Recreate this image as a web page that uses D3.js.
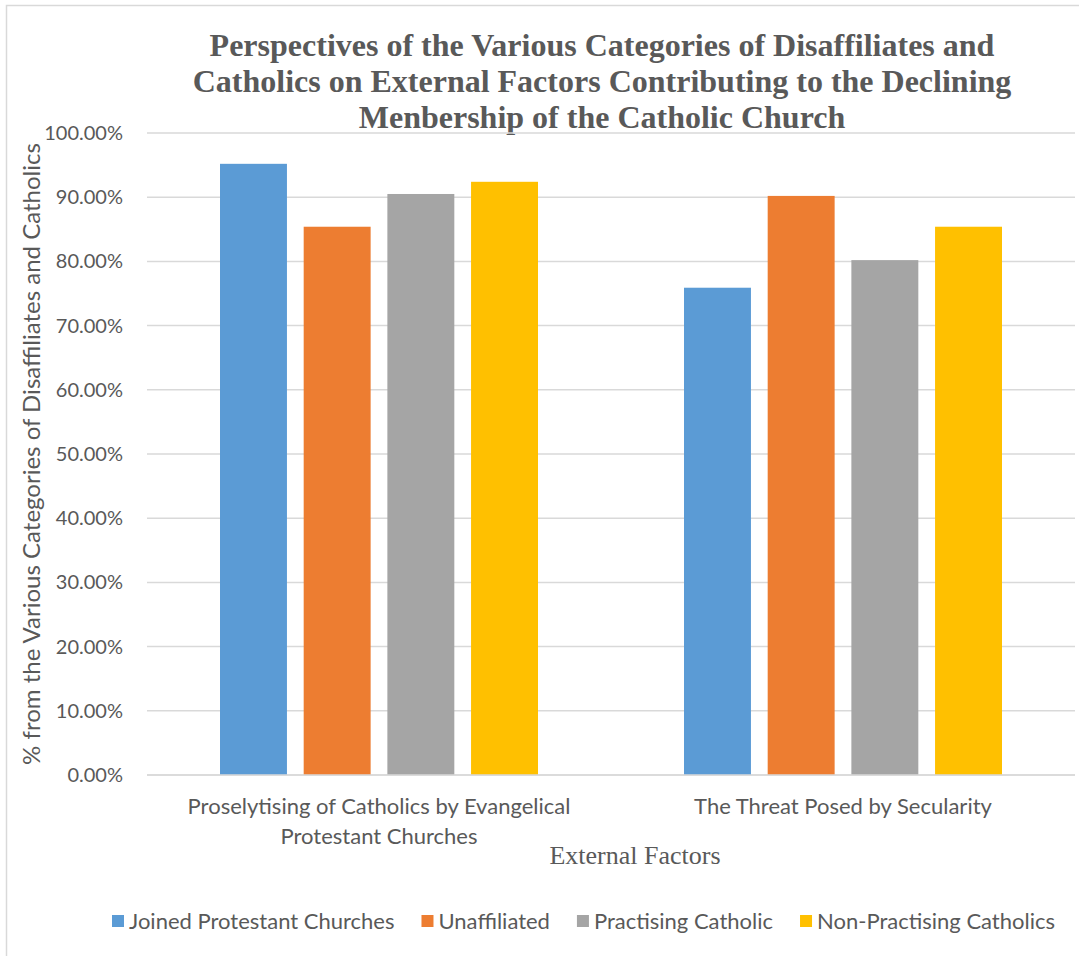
<!DOCTYPE html>
<html>
<head>
<meta charset="utf-8">
<script src="https://d3js.org/d3.v7.min.js"></script>
<style>
  body { margin: 0; background: #fff; }
  svg text { fill: #595959; }
</style>
</head>
<body>
<div id="chart"></div>
<script>
// categories on the x axis (each label split into lines)
const categories = [
  "Proselytising of Catholics by Evangelical Protestant Churches",
  "The Threat Posed by Secularity"
];
const categoryLines = [
  ["Proselytising of Catholics by Evangelical", "Protestant Churches"],
  ["The Threat Posed by Secularity"]
];
const seriesNames = ["Joined Protestant Churches", "Unaffiliated", "Practising Catholic", "Non-Practising Catholics"];
const seriesColors = ["#5B9BD5", "#ED7D31", "#A5A5A5", "#FFC000"];
// values in percent, one array per series (same order as categories)
const joinedProtestant = [95.2, 75.9];
const unaffiliated = [85.4, 90.2];
const practising = [90.5, 80.2];
const nonPractising = [92.4, 85.4];
const yTicks = [0, 10, 20, 30, 40, 50, 60, 70, 80, 90, 100];
const titleLines = [
  "Perspectives of the Various Categories of Disaffiliates and",
  "Catholics on External Factors Contributing to the Declining",
  "Menbership of the Catholic Church"
];

const seriesValues = [joinedProtestant, unaffiliated, practising, nonPractising];

const W = 1079, H = 956;
const margin = { top: 133, right: 4, bottom: 181, left: 147 };
const width = W - margin.left - margin.right;
const height = H - margin.top - margin.bottom;

const svg = d3.select("#chart").append("svg")
  .attr("width", W)
  .attr("height", H);

// outer chart border
svg.append("rect")
  .attr("x", 6.5).attr("y", 5.5)
  .attr("width", W + 10).attr("height", H + 10)
  .attr("fill", "none")
  .attr("stroke", "#D9D9D9")
  .attr("stroke-width", 1.5);

// title
svg.append("g").selectAll("text")
  .data(titleLines)
  .enter().append("text")
  .attr("x", 602)
  .attr("y", (d, i) => 56 + i * 36)
  .attr("text-anchor", "middle")
  .style("font-family", "'Liberation Serif', 'Times New Roman', serif")
  .style("font-weight", "bold")
  .style("font-size", "32px")
  .text(d => d);

const g = svg.append("g")
  .attr("transform", `translate(${margin.left},${margin.top})`);

const x0 = d3.scaleBand()
  .domain(categories)
  .range([0, width])
  .padding(0);

const x1 = d3.scaleBand()
  .domain(seriesNames)
  .range([73, x0.bandwidth() - 73])
  .paddingInner(0.2)
  .paddingOuter(0);

const y = d3.scaleLinear()
  .domain([0, 100])
  .range([height, 0]);

// gridlines
g.append("g").selectAll("line")
  .data(yTicks)
  .enter().append("line")
  .attr("x1", 0).attr("x2", width)
  .attr("y1", d => y(d)).attr("y2", d => y(d))
  .attr("stroke", "#D9D9D9")
  .attr("stroke-width", 1.5);

// y axis labels
const yAxis = g.append("g")
  .call(d3.axisLeft(y).tickValues(yTicks).tickSize(0).tickPadding(24).tickFormat(d => d.toFixed(2) + "%"));
yAxis.select(".domain").remove();
yAxis.selectAll("text")
  .style("font-family", "Lato, 'Open Sans', sans-serif")
  .style("font-size", "20px")
  .attr("fill", "#595959");

// bars
const groups = g.selectAll(".grp")
  .data(categories)
  .enter().append("g")
  .attr("class", "grp")
  .attr("transform", d => `translate(${x0(d)},0)`);

groups.selectAll("rect")
  .data((c, ci) => seriesNames.map((s, si) => ({ s, si, v: seriesValues[si][ci] })))
  .enter().append("rect")
  .attr("x", d => x1(d.s))
  .attr("width", x1.bandwidth())
  .attr("y", d => y(d.v))
  .attr("height", d => y(0) - y(d.v))
  .attr("fill", d => seriesColors[d.si]);

// x axis line
g.append("line")
  .attr("x1", 0).attr("x2", width)
  .attr("y1", height).attr("y2", height)
  .attr("stroke", "#D9D9D9")
  .attr("stroke-width", 1.5);

// category labels
groups.each(function(c, ci) {
  d3.select(this).append("text")
    .attr("x", x0.bandwidth() / 2)
    .attr("y", height + 39)
    .attr("text-anchor", "middle")
    .style("font-family", "Lato, 'Open Sans', sans-serif")
    .style("font-size", "22px")
    .selectAll("tspan")
    .data(categoryLines[ci])
    .enter().append("tspan")
    .attr("x", x0.bandwidth() / 2)
    .attr("dy", (d, i) => i === 0 ? 0 : 30)
    .text(d => d);
});

// x axis title
svg.append("text")
  .attr("x", 635)
  .attr("y", 864)
  .attr("text-anchor", "middle")
  .style("font-family", "'Liberation Serif', 'Times New Roman', serif")
  .style("font-size", "26px")
  .text("External Factors");

// y axis title
svg.append("text")
  .attr("transform", `translate(40,${margin.top + height / 2}) rotate(-90)`)
  .attr("text-anchor", "middle")
  .style("font-family", "Lato, 'Open Sans', sans-serif")
  .style("font-size", "24px")
  .text("% from the Various Categories of Disaffiliates and Catholics");

// legend
const legend = svg.append("g").attr("transform", "translate(0,921)");
const items = legend.selectAll("g")
  .data(seriesNames)
  .enter().append("g");
items.append("rect")
  .attr("width", 12).attr("height", 12)
  .attr("y", -6)
  .attr("fill", (d, i) => seriesColors[i]);
items.append("text")
  .attr("x", 17)
  .attr("dy", "0.35em")
  .style("font-family", "Lato, 'Open Sans', sans-serif")
  .style("font-size", "22px")
  .text(d => d);
// lay items out side by side
const gap = 27;
const widths = [];
items.each(function() { widths.push(this.getBBox().width); });
let cx = 112;
items.attr("transform", (d, i) => {
  const t = `translate(${cx},0)`;
  cx += widths[i] + gap;
  return t;
});
</script>
</body>
</html>
